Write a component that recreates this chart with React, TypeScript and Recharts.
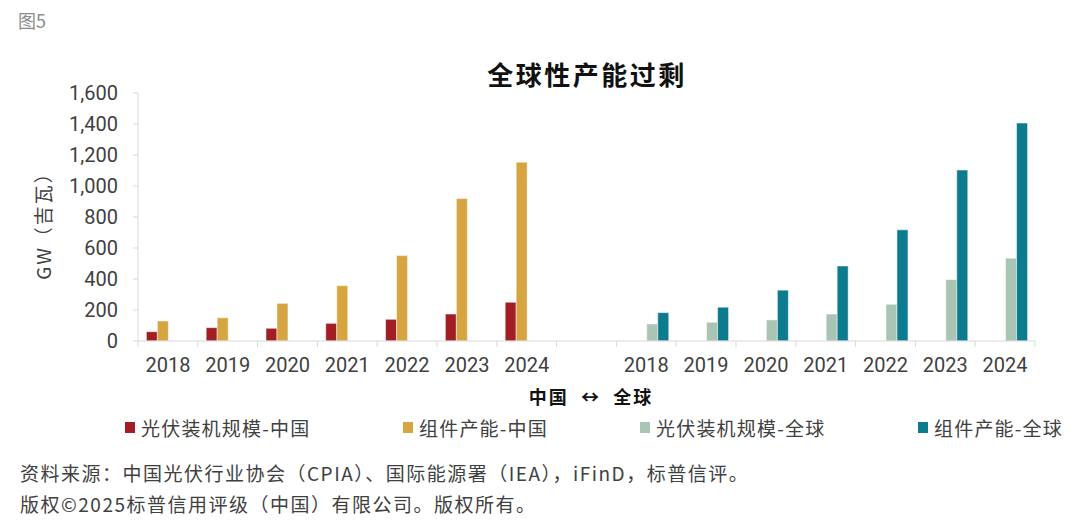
import React from 'react';
import { BarChart, Bar, XAxis, YAxis, Legend } from 'recharts';

// categories: China 2018-2024, an empty spacer, then Global 2018-2024
const YEARS = ['2018', '2019', '2020', '2021', '2022', '2023', '2024'];
const CATEGORIES = [...YEARS, '', ...YEARS];

const chinaInstall = [60, 86, 82, 114, 140, 174, 250];
const chinaModule = [129, 150, 243, 357, 551, 919, 1154];
const globalInstall = [110, 121, 136, 174, 237, 396, 534];
const globalModule = [183, 218, 328, 484, 717, 1103, 1406];

const Y_TICKS = [0, 200, 400, 600, 800, 1000, 1200, 1400, 1600];

const SERIES = [
  { key: 'cnInstall', name: '光伏装机规模-中国', color: '#A31D24' },
  { key: 'cnModule', name: '组件产能-中国', color: '#D6A542' },
  { key: 'glInstall', name: '光伏装机规模-全球', color: '#A9C4B3' },
  { key: 'glModule', name: '组件产能-全球', color: '#0B7B8D' },
];

const data = CATEGORIES.map((cat, i) => {
  const cn = i < 7;
  const gl = i > 7;
  return {
    name: cat,
    cnInstall: cn ? chinaInstall[i] : null,
    cnModule: cn ? chinaModule[i] : null,
    glInstall: gl ? globalInstall[i - 8] : null,
    glModule: gl ? globalModule[i - 8] : null,
  };
});

const TEXT = '#404040';
const AXIS = '#d9d9d9';
const TICK_FONT = 'Roboto, "Noto Sans CJK SC", sans-serif';
const CJK_FONT = '"Noto Sans CJK SC", "Noto Sans", sans-serif';

const X_TICK_SIZE = 6;
const X_TICK_MARGIN = 11;

// category tick: label in the middle, tick marks on the band edges
const XTick = (props: any) => {
  const { x, y, payload } = props;
  const half = payload?.offset || 29.9;
  const axisY = y - X_TICK_SIZE - X_TICK_MARGIN;
  const last = payload?.index === CATEGORIES.length - 1;
  return (
    <g>
      <line x1={x - half} x2={x - half} y1={axisY} y2={axisY + X_TICK_SIZE} stroke={AXIS} />
      {last && <line x1={x + half} x2={x + half} y1={axisY} y2={axisY + X_TICK_SIZE} stroke={AXIS} />}
      <text x={x} y={y} dy="0.71em" textAnchor="middle" fill={TEXT} fontSize={20} fontFamily={TICK_FONT}>
        {payload.value}
      </text>
    </g>
  );
};

const LEGEND_X = [125, 403, 640, 918];

const LegendContent = () => (
  <div style={{ position: 'relative', width: 1080, height: 30 }}>
    {SERIES.map((s, i) => (
      <div
        key={s.key}
        style={{
          position: 'absolute',
          left: LEGEND_X[i],
          top: 0,
          display: 'flex',
          alignItems: 'center',
          fontFamily: CJK_FONT,
          fontSize: 19,
          letterSpacing: 1.2,
          color: TEXT,
          whiteSpace: 'nowrap',
        }}
      >
        <span style={{ width: 10, height: 11, background: s.color, marginRight: 6, display: 'inline-block' }} />
        {s.name}
      </div>
    ))}
  </div>
);

export default function App() {
  return (
    <div style={{ position: 'absolute', left: 0, top: 0, width: 1080, height: 521, background: '#fff', overflow: 'hidden' }}>
      <div style={{ position: 'absolute', left: 18, top: 7, fontFamily: CJK_FONT, fontSize: 18, color: '#8c8c8c' }}>图5</div>
      <div
        style={{
          position: 'absolute',
          left: 0,
          width: 1174,
          top: 55,
          textAlign: 'center',
          fontFamily: CJK_FONT,
          fontSize: 26,
          fontWeight: 600,
          letterSpacing: 2.5,
          color: '#111',
        }}
      >
        全球性产能过剩
      </div>
      <div
        style={{
          position: 'absolute',
          left: 42,
          top: 221,
          transform: 'translate(-50%, -50%) rotate(-90deg)',
          fontFamily: CJK_FONT,
          fontSize: 19,
          letterSpacing: 2,
          color: TEXT,
          whiteSpace: 'nowrap',
        }}
      >
        GW（吉瓦）
      </div>
      <div
        style={{
          position: 'absolute',
          left: 0,
          width: 1182,
          top: 383,
          textAlign: 'center',
          fontFamily: CJK_FONT,
          fontSize: 18,
          fontWeight: 700,
          letterSpacing: 2,
          color: '#111',
          whiteSpace: 'pre',
        }}
      >
        {'中国  ↔  全球'}
      </div>
      <BarChart
        width={1080}
        height={521}
        data={data}
        margin={{ top: 93, right: 45, bottom: 120, left: 78 }}
        barCategoryGap="14%"
        barGap={0}
        style={{ position: 'absolute', left: 0, top: 0 }}
      >
        <XAxis
          dataKey="name"
          interval={0}
          tickLine={false}
          tickSize={X_TICK_SIZE}
          tickMargin={X_TICK_MARGIN}
          axisLine={{ stroke: AXIS }}
          tick={<XTick />}
          height={30}
        />
        <YAxis
          domain={[0, 1600]}
          ticks={Y_TICKS}
          interval={0}
          width={60}
          tickSize={5}
          tickMargin={15}
          tickLine={{ stroke: AXIS }}
          axisLine={{ stroke: AXIS }}
          tick={{ fill: TEXT, fontSize: 20, fontFamily: TICK_FONT }}
          tickFormatter={(v: number) => v.toLocaleString('en-US')}
        />
        <Legend
          content={<LegendContent />}
          wrapperStyle={{ position: 'absolute', left: 0, top: 414, width: 1080, height: 30 }}
        />
        {SERIES.map((s) => (
          <Bar
            key={s.key}
            dataKey={s.key}
            name={s.name}
            fill={s.color}
            stroke="#ffffff"
            strokeWidth={0.5}
            isAnimationActive={false}
          />
        ))}
      </BarChart>
      <div style={{ position: 'absolute', left: 20, top: 459, fontFamily: CJK_FONT, fontSize: 19, letterSpacing: 1.5, color: TEXT, whiteSpace: 'nowrap' }}>
        资料来源：中国光伏行业协会（CPIA）、国际能源署（IEA），iFinD，标普信评。
      </div>
      <div style={{ position: 'absolute', left: 20, top: 490, fontFamily: CJK_FONT, fontSize: 19, letterSpacing: 1.5, color: TEXT, whiteSpace: 'nowrap' }}>
        版权©2025标普信用评级（中国）有限公司。版权所有。
      </div>
    </div>
  );
}
